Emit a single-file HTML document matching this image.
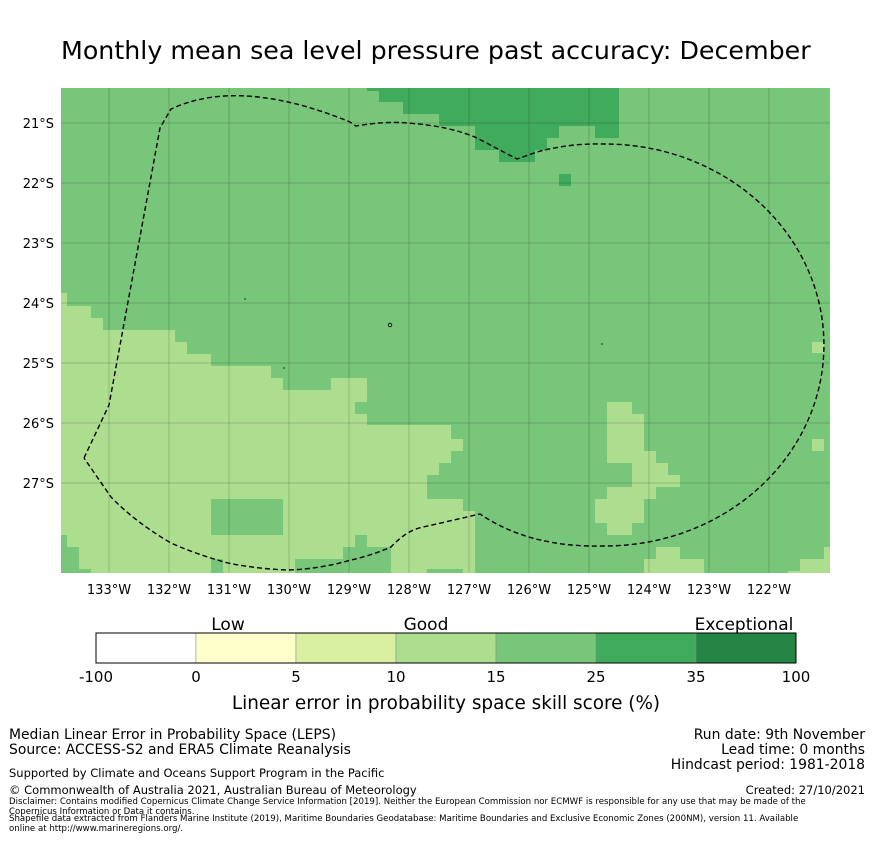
<!DOCTYPE html>
<html><head><meta charset="utf-8"><style>
body{margin:0;background:#fff;font-family:"Liberation Sans","DejaVu Sans",sans-serif;}
svg text{font-family:"DejaVu Sans","Liberation Sans",sans-serif;}
</style></head><body>
<svg id="c" width="873" height="839" viewBox="0 0 873 839" xmlns="http://www.w3.org/2000/svg">
<text x="61" y="59" font-size="25.3" fill="#000">Monthly mean sea level pressure past accuracy: December</text>
<g id="map">
<rect x="61" y="88" width="769" height="485" fill="#78c679"/>
<path fill="#addd8e" d="M61,293 H67 V306 H91 V318 H103 V330 H175 V342 H187 V354 H211 V366 H271 V378 H283 V390 H331 V378 H367 V402 H355 V414 H367 V425 H451 V439 H463 V451 H451 V463 H439 V475 H427 V499 H463 V511 H475 V573 H61 Z"/>
<g fill="#78c679">
<rect x="211" y="499" width="72" height="36"/>
<rect x="61" y="535" width="6" height="38"/><rect x="61" y="547" width="18" height="26"/><rect x="61" y="569" width="30" height="4"/>
<rect x="211" y="559" width="12" height="14"/>
<rect x="295" y="559" width="48" height="14"/><rect x="343" y="547" width="48" height="26"/><rect x="355" y="535" width="12" height="12"/>
<rect x="427" y="569" width="36" height="4"/>
</g>
<g fill="#addd8e">
<rect x="607" y="402" width="25" height="61"/><rect x="632" y="414" width="12" height="49"/>
<rect x="632" y="451" width="24" height="48"/><rect x="656" y="463" width="12" height="24"/><rect x="668" y="475" width="12" height="12"/>
<rect x="607" y="487" width="37" height="36"/><rect x="607" y="523" width="25" height="12"/><rect x="595" y="499" width="12" height="24"/>
<rect x="812" y="342" width="12" height="11"/><rect x="812" y="439" width="12" height="12"/>
<rect x="656" y="547" width="24" height="26"/><rect x="644" y="559" width="60" height="14"/>
<rect x="800" y="559" width="30" height="14"/><rect x="824" y="547" width="6" height="26"/><rect x="788" y="571" width="12" height="2"/>
</g>
<path fill="#41ab5d" d="M367,88 H619 V138 H595 V126 H559 V138 H547 V150 H535 V162 H499 V150 H475 V126 H439 V114 H403 V102 H379 V91 H367 Z"/>
<rect x="559" y="174" width="12" height="12" fill="#41ab5d"/>
<g id="grid" stroke="#000" stroke-opacity="0.22" stroke-width="0.8"></g>
<path fill="none" stroke="#000" stroke-width="1.4" stroke-dasharray="5,3" d="M84,458 L109,405 L160,128 L171,109 Q240,77 350,122 L356,126 Q385,121 407,123 Q450,126 477,138 L517,159 L537,152 Q570,143 605,144 A219,201 0 0 1 605,546 Q530,548 480,514 L419,528 Q405,532 391,547 Q370,556 351,560 Q320,569 288,570 Q258,569 228,563 Q198,555 171,543 Q135,522 111,497 L84,458"/>
<g fill="none" stroke="#000" stroke-width="0.8">
<circle cx="390" cy="325" r="1.8"/><path d="M244,299h2M283,368h2M601,344h2"/>
</g>
</g>
<g id="axes" font-size="13" fill="#000"></g>
<g>
<text x="228" y="630" font-size="17" text-anchor="middle">Low</text>
<text x="426" y="630" font-size="17" text-anchor="middle">Good</text>
<text x="744" y="630" font-size="17" text-anchor="middle">Exceptional</text>
<g id="cbar"></g>
<text x="446" y="709" font-size="18.4" text-anchor="middle">Linear error in probability space skill score (%)</text>
</g>
<g font-size="13.9" fill="#000">
<text x="9" y="739">Median Linear Error in Probability Space (LEPS)</text>
<text x="9" y="754">Source: ACCESS-S2 and ERA5 Climate Reanalysis</text>
<text x="865" y="739" text-anchor="end">Run date: 9th November</text>
<text x="865" y="754" text-anchor="end">Lead time: 0 months</text>
<text x="865" y="769" text-anchor="end">Hindcast period: 1981-2018</text>
<text x="9" y="777" font-size="11.5">Supported by Climate and Oceans Support Program in the Pacific</text>
<text x="9" y="794" font-size="11.5">© Commonwealth of Australia 2021, Australian Bureau of Meteorology</text>
<text x="865" y="794" text-anchor="end" font-size="11.5">Created: 27/10/2021</text>
<text x="9" y="804" font-size="8.6">Disclaimer: Contains modified Copernicus Climate Change Service Information [2019]. Neither the European Commission nor ECMWF is responsible for any use that may be made of the</text>
<text x="9" y="814" font-size="8.6">Copernicus Information or Data it contains.</text>
<text x="9" y="821" font-size="8.6">Shapefile data extracted from Flanders Marine Institute (2019), Maritime Boundaries Geodatabase: Maritime Boundaries and Exclusive Economic Zones (200NM), version 11. Available</text>
<text x="9" y="831" font-size="8.6">online at http://www.marineregions.org/.</text>
</g>
</svg>
<script>
const lonTicks=[133,132,131,130,129,128,127,126,125,124,123,122];
const latTicks=[21,22,23,24,25,26,27];
const cbarLabels=["-100","0","5","10","15","25","35","100"];
const cbarColors=["#ffffff","#ffffcc","#d9f0a3","#addd8e","#78c679","#41ab5d","#238443"];
const NS="http://www.w3.org/2000/svg";
function xLon(l){return 109+(133-l)*60;}
function yLat(l){return 123+(l-21)*60;}
const grid=document.getElementById('grid'),axes=document.getElementById('axes'),cb=document.getElementById('cbar');
lonTicks.forEach(l=>{
 const ln=document.createElementNS(NS,'line');
 ln.setAttribute('x1',xLon(l));ln.setAttribute('x2',xLon(l));ln.setAttribute('y1',88);ln.setAttribute('y2',573);
 
 
 grid.appendChild(ln);
 const t=document.createElementNS(NS,'text');
 t.setAttribute('x',xLon(l));t.setAttribute('y',594);t.setAttribute('text-anchor','middle');
 t.textContent=l+'°W';
 
 
 axes.appendChild(t);
});
latTicks.forEach(l=>{
 const ln=document.createElementNS(NS,'line');
 ln.setAttribute('x1',61);ln.setAttribute('x2',830);ln.setAttribute('y1',yLat(l));ln.setAttribute('y2',yLat(l));
 
 
 grid.appendChild(ln);
 const t=document.createElementNS(NS,'text');
 t.setAttribute('x',54);t.setAttribute('y',yLat(l)+5);t.setAttribute('text-anchor','end');
 t.textContent=l+'°S';
 
 
 axes.appendChild(t);
});
cbarColors.forEach((c,i)=>{
 const r=document.createElementNS(NS,'rect');
 r.setAttribute('x',96+i*100);r.setAttribute('y',633);r.setAttribute('width',100);r.setAttribute('height',30);
 r.setAttribute('fill',c);r.setAttribute('stroke','#888');r.setAttribute('stroke-width','0.5');
 
 
 cb.appendChild(r);
});
const fr=document.createElementNS(NS,'rect');
fr.setAttribute('x',96);fr.setAttribute('y',633);fr.setAttribute('width',700);fr.setAttribute('height',30);
fr.setAttribute('fill','none');fr.setAttribute('stroke','#000');fr.setAttribute('stroke-width','1');


cb.appendChild(fr);
cbarLabels.forEach((s,i)=>{
 const t=document.createElementNS(NS,'text');
 t.setAttribute('x',96+i*100);t.setAttribute('y',682);t.setAttribute('text-anchor','middle');t.setAttribute('font-size','15');
 t.textContent=s;
 
 
 cb.appendChild(t);
});
</script>
</body></html>
